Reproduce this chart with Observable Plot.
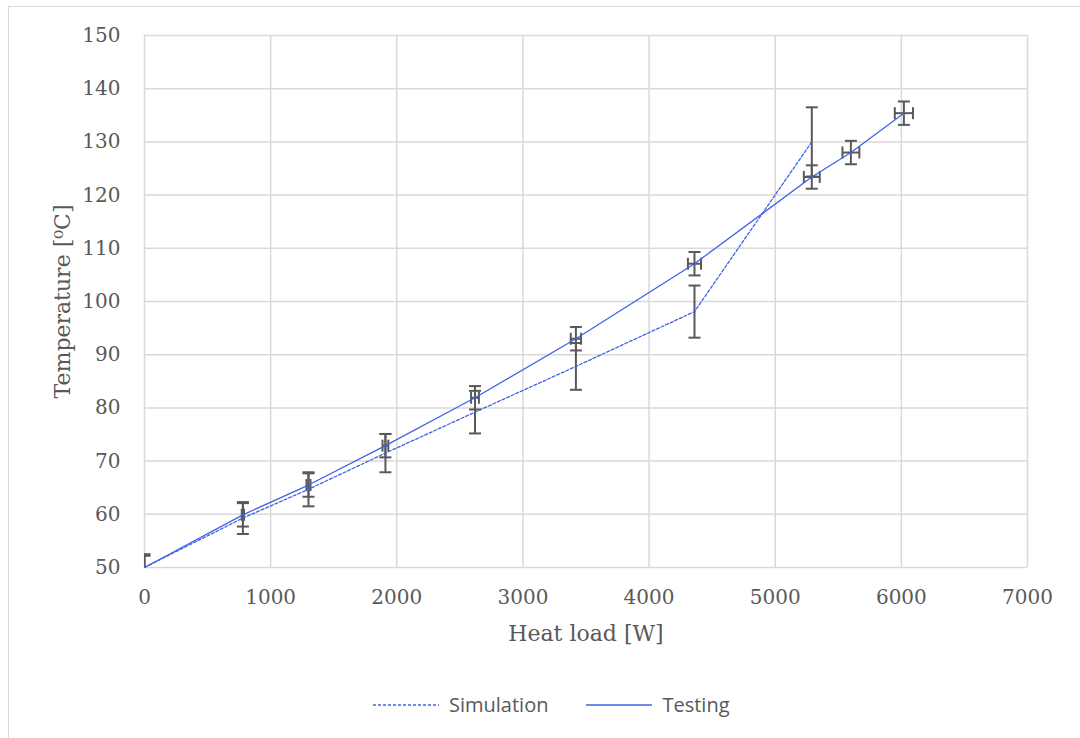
<!DOCTYPE html>
<html>
<head>
<meta charset="utf-8">
<script src="https://cdn.jsdelivr.net/npm/d3@7"></script>
<script src="https://cdn.jsdelivr.net/npm/@observablehq/plot@0.6"></script>
<style>
  html, body { margin: 0; padding: 0; background: #fff; width: 1080px; height: 738px; overflow: hidden; }
  #frame { position: absolute; left: 8px; top: 6px; width: 1100px; height: 760px; border: 1.5px solid #d9d9d9; box-sizing: border-box; }
  #chart { position: absolute; left: 0; top: 0; }
  #legend { position: absolute; left: 373px; top: 691px; display: flex; align-items: center; font-family: "Open Sans", sans-serif; font-size: 20px; color: #595959; }
  #legend .item { display: flex; align-items: center; margin-right: 38px; }
  #legend svg { margin-right: 10px; }
</style>
</head>
<body>
<div id="frame"></div>
<div id="chart"></div>
<div id="legend"></div>
<script>
// ---- data ----
const heatLoad        = [0, 780, 1300, 1910, 2620, 3420, 4360, 5290, 5600, 6020];
const testingTemp     = [50, 59.9, 65.5, 72.9, 81.9, 93.0, 107.1, 123.4, 128.0, 135.4];
const testingTempErr  = [2.2, 2.2, 2.2, 2.2, 2.2, 2.2, 2.2, 2.2, 2.2, 2.2];
const testingLoadErr  = [0, 9, 16, 23, 31, 41, 52, 63, 67, 72];
const simLoad         = [0, 780, 1300, 1910, 2620, 3420, 4360, 5290];
const simTemp         = [50, 59.3, 64.7, 71.5, 79.2, 87.8, 98.1, 130.0];
const simTempErr      = [2.5, 3.0, 3.2, 3.6, 4.0, 4.4, 4.9, 6.5];
const xTicks = [0, 1000, 2000, 3000, 4000, 5000, 6000, 7000];
const yTicks = [50, 60, 70, 80, 90, 100, 110, 120, 130, 140, 150];
const seriesNames = ["Simulation", "Testing"];
const xLabel = "Heat load [W]";
const yLabel = "Temperature [\u2070C]";

const testing = heatLoad.map((x, i) => ({x, y: testingTemp[i], ey: testingTempErr[i], ex: testingLoadErr[i]}));
const simulation = simLoad.map((x, i) => ({x, y: simTemp[i], ey: simTempErr[i]}));

const lineColor = "#3f62e6";
const errColor = "#595959";
const hCap = {draw(ctx, size) { const r = 6; ctx.moveTo(-r, 0); ctx.lineTo(r, 0); }};
const vCap = {draw(ctx, size) { const r = 6; ctx.moveTo(0, -r); ctx.lineTo(0, r); }};

const serif = "DejaVu Serif";
const eb = {stroke: errColor, strokeWidth: 2, clip: true};

const chart = Plot.plot({
  width: 1080,
  height: 670,
  marginLeft: 144,
  marginRight: 53,
  marginTop: 35,
  marginBottom: 103,
  style: {background: "transparent", fontFamily: serif, color: "#595959"},
  x: {domain: [0, 7000]},
  y: {domain: [50, 150]},
  marks: [
    Plot.gridX(xTicks, {stroke: "#d9d9d9", strokeOpacity: 1, strokeWidth: 1.5}),
    Plot.gridY(yTicks, {stroke: "#d9d9d9", strokeOpacity: 1, strokeWidth: 1.5}),
    Plot.axisX(xTicks, {tickSize: 0, tickPadding: 22, fontSize: 20, label: null, fill: "#595959", tickFormat: d => String(d)}),
    Plot.axisY(yTicks, {tickSize: 0, tickPadding: 24, fontSize: 20, label: null, fill: "#595959", tickFormat: d => String(d)}),
    Plot.text([xLabel], {frameAnchor: "bottom", dy: 73, fontSize: 22, fill: "#595959", fontFamily: serif}),
    Plot.text([yLabel], {frameAnchor: "left", textAnchor: "middle", dx: -82, rotate: -90, fontSize: 22, fill: "#595959", fontFamily: serif}),
    // simulation error bars
    Plot.ruleX(simulation, {x: "x", y1: d => d.y - d.ey, y2: d => d.y + d.ey, ...eb}),
    Plot.dot(simulation, {x: "x", y: d => d.y - d.ey, symbol: hCap, fill: "none", ...eb}),
    Plot.dot(simulation, {x: "x", y: d => d.y + d.ey, symbol: hCap, fill: "none", ...eb}),
    // testing error bars
    Plot.ruleX(testing, {x: "x", y1: d => d.y - d.ey, y2: d => d.y + d.ey, ...eb}),
    Plot.dot(testing, {x: "x", y: d => d.y - d.ey, symbol: hCap, fill: "none", ...eb}),
    Plot.dot(testing, {x: "x", y: d => d.y + d.ey, symbol: hCap, fill: "none", ...eb}),
    Plot.ruleY(testing.filter(d => d.ex > 0), {y: "y", x1: d => d.x - d.ex, x2: d => d.x + d.ex, ...eb}),
    Plot.dot(testing.filter(d => d.ex > 0), {x: d => d.x - d.ex, y: "y", symbol: vCap, fill: "none", ...eb}),
    Plot.dot(testing.filter(d => d.ex > 0), {x: d => d.x + d.ex, y: "y", symbol: vCap, fill: "none", ...eb}),
    // lines
    Plot.line(simulation, {x: "x", y: "y", stroke: lineColor, strokeWidth: 1.3, strokeDasharray: "3,2"}),
    Plot.line(testing, {x: "x", y: "y", stroke: lineColor, strokeWidth: 1.3})
  ]
});
document.getElementById("chart").appendChild(chart);

// legend
const legend = document.getElementById("legend");
seriesNames.forEach((name, i) => {
  const item = document.createElement("div");
  item.className = "item";
  const dash = i === 0 ? 'stroke-dasharray="3,2"' : '';
  item.innerHTML = `<svg width="66" height="10"><line x1="0" y1="5" x2="66" y2="5" stroke="${lineColor}" stroke-width="1.5" ${dash}/></svg><span>${name}</span>`;
  legend.appendChild(item);
});
</script>
</body>
</html>
